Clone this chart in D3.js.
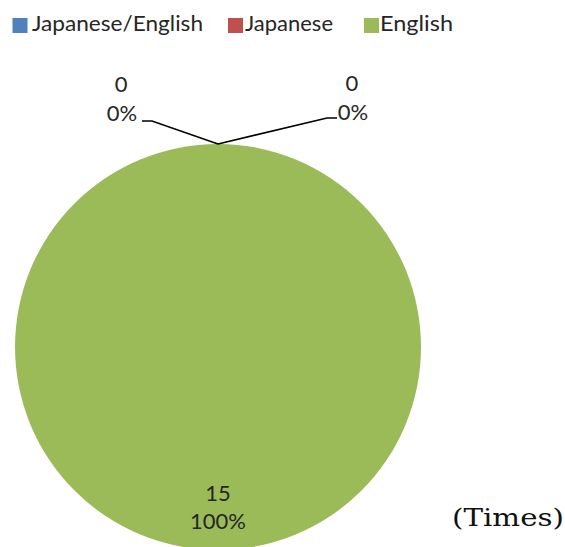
<!DOCTYPE html>
<html>
<head>
<meta charset="utf-8">
<script src="https://cdn.jsdelivr.net/npm/d3@7"></script>
<style>
  html, body { margin: 0; padding: 0; background: #fff; }
  svg { display: block; }
  text { font-family: Lato, "Open Sans", sans-serif; fill: #262626; }
  text.unit { font-family: "DejaVu Serif", "Liberation Serif", serif; fill: #111; }
</style>
</head>
<body>
<svg id="chart" width="565" height="547"></svg>
<script>
// Answer language counts
const categories = ["Japanese/English", "Japanese", "English"];
const counts = [0, 0, 15];
const colors = ["#4F81BD", "#C0504D", "#9BBB59"];
const unitLabel = "(Times)";

const W = 565, H = 547;
const svg = d3.select("#chart");

const cx = 218, cy = 347, radius = 203;

const total = d3.sum(counts);
const pct = d3.format(".0%");

const pie = d3.pie().sort(null).value(d => d.value).startAngle(0).endAngle(2 * Math.PI);
const arcs = pie(categories.map((c, i) => ({ name: c, value: counts[i], color: colors[i] })));
const arc = d3.arc().innerRadius(0).outerRadius(radius);

const g = svg.append("g").attr("transform", `translate(${cx},${cy})`);

g.selectAll("path.slice")
  .data(arcs.filter(a => a.value > 0))
  .join("path")
  .attr("class", "slice")
  .attr("d", arc)
  .attr("fill", d => d.data.color);

// Legend along the top
const legendX = [12.5, 228, 364];
const legendTextX = [32, 245, 380];
const legendW = [171, 88, 73];
const legend = svg.append("g");
categories.forEach((c, i) => {
  legend.append("rect")
    .attr("x", legendX[i]).attr("y", 18)
    .attr("width", 15).attr("height", 15)
    .attr("fill", colors[i]);
  legend.append("text")
    .attr("x", legendTextX[i]).attr("y", 31)
    .attr("font-size", 22)
    .attr("textLength", legendW[i])
    .attr("lengthAdjust", "spacingAndGlyphs")
    .text(c);
});

// Data labels: value and share
const midAngle = d => (d.startAngle + d.endAngle) / 2;
const point = (a, r) => [Math.sin(a) * r, -Math.cos(a) * r];

// Zero slices sit at the top, pulled out left and right with leader lines
const zeroSlices = arcs.filter(a => a.value === 0);
const sideOffsets = [
  { label: [-97, -226], elbow: [-66, -226], end: [-76, -226], anchor: "middle" },
  { label: [134, -227], elbow: [109, -229], end: [119, -229], anchor: "middle" }
];

zeroSlices.forEach((d, k) => {
  const o = sideOffsets[k];
  const p0 = point(midAngle(d), radius);
  g.append("polyline")
    .attr("points", [p0, o.elbow, o.end].map(p => p.join(",")).join(" "))
    .attr("fill", "none")
    .attr("stroke", "#000")
    .attr("stroke-width", 1.6);
  const t = g.append("text")
    .attr("text-anchor", o.anchor)
    .attr("font-size", 22);
  t.append("tspan").attr("x", o.label[0]).attr("y", o.label[1] - 29).text(d.value);
  t.append("tspan").attr("x", o.label[0] + 1).attr("y", o.label[1]).text(pct(total ? d.value / total : 0));
});

// Full slice label placed along its mid-angle
arcs.filter(a => a.value > 0).forEach(d => {
  const [x, y] = point(midAngle(d), radius * 0.775);
  const t = g.append("text")
    .attr("text-anchor", "middle")
    .attr("font-size", 22);
  t.append("tspan").attr("x", x).attr("y", y - 3).text(d.value);
  t.append("tspan").attr("x", x).attr("y", y + 25).text(pct(d.value / total));
});

// Unit note
svg.append("text")
  .attr("class", "unit")
  .attr("x", 452).attr("y", 526)
  .attr("font-size", 25)
  .attr("textLength", 112)
  .attr("lengthAdjust", "spacingAndGlyphs")
  .text(unitLabel);
</script>
</body>
</html>
